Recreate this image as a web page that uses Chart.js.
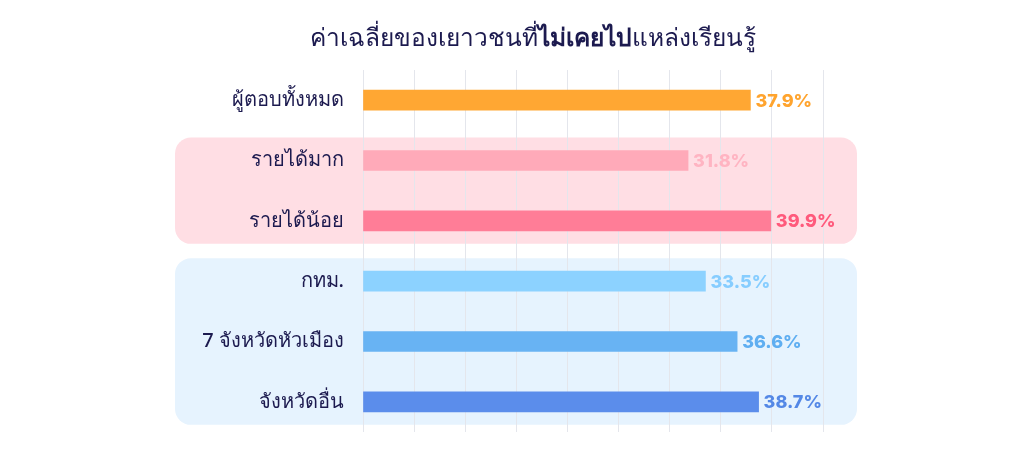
<!DOCTYPE html>
<html>
<head>
<meta charset="utf-8">
<script src="https://cdn.jsdelivr.net/npm/chart.js@4"></script>
<style>
  html, body { margin: 0; padding: 0; background: #fff; }
  #wrap { position: relative; width: 1024px; height: 453px; }
  #title { position: absolute; left: 0; width: 1066px; top: 18px; text-align: center;
           font-family: 'Noto Sans', sans-serif; font-size: 24.5px; color: #1c1a4f; }
  #title b { font-weight: 800; }
  canvas { position: absolute; left: 0; top: 0; }
</style>
</head>
<body>
<div id="wrap">
  <canvas id="chart" width="1024" height="453"></canvas>
  <div id="title">ค่าเฉลี่ยของเยาวชนที่<b>ไม่เคยไป</b>แหล่งเรียนรู้</div>
</div>
<script>
const categories = ['ผู้ตอบทั้งหมด', 'รายได้มาก', 'รายได้น้อย', 'กทม.', '7 จังหวัดหัวเมือง', 'จังหวัดอื่น'];
const values = [37.9, 31.8, 39.9, 33.5, 36.6, 38.7];
const barColors = ['#FFA733', '#FFAAB9', '#FF7D97', '#8CD2FF', '#68B3F3', '#5B8DEB'];
const labelColors = ['#FFA42E', '#FFB4C2', '#FF5A7C', '#86CDFF', '#5FAEF1', '#5488E6'];
const xTicks = [0, 5, 10, 15, 20, 25, 30, 35, 40, 45];

// rounded panels behind the two groups (category index ranges)
const groupPanels = [
    {from: 1, to: 2, color: '#FFDEE4'},
    {from: 3, to: 5, color: '#E6F3FE'}
];

const panelPlugin = {
    id: 'panels',
    beforeDraw(chart) {
        const ctx = chart.ctx;
        const y = chart.scales.y;
        groupPanels.forEach(p => {
            const top = y.getPixelForValue(p.from) - 23;
            const bottom = y.getPixelForValue(p.to) + 23;
            ctx.save();
            ctx.fillStyle = p.color;
            ctx.beginPath();
            ctx.roundRect(175, top, 682, bottom - top, 16);
            ctx.fill();
            ctx.restore();
        });
    }
};

const valueLabelPlugin = {
    id: 'valueLabels',
    afterDatasetsDraw(chart) {
        const ctx = chart.ctx;
        const meta = chart.getDatasetMeta(0);
        ctx.save();
        ctx.font = '800 18px Inter, sans-serif';
        ctx.textBaseline = 'middle';
        meta.data.forEach((bar, i) => {
            ctx.fillStyle = labelColors[i];
            ctx.fillText(values[i].toFixed(1) + '%', bar.x + 5, bar.y + 1);
        });
        ctx.restore();
    }
};

new Chart(document.getElementById('chart'), {
    type: 'bar',
    data: {
        labels: categories,
        datasets: [{
            data: values,
            backgroundColor: barColors,
            barThickness: 20
        }]
    },
    options: {
        indexAxis: 'y',
        responsive: false,
        animation: false,
        layout: {padding: {top: 70, bottom: 21, right: 201, left: 0}},
        plugins: {legend: {display: false}, tooltip: {enabled: false}},
        scales: {
            x: {
                min: 0, max: 45,
                afterBuildTicks: axis => { axis.ticks = xTicks.map(v => ({value: v})); },
                afterFit: axis => { axis.height = 0; axis.paddingLeft = 0; axis.paddingRight = 0; },
                ticks: {display: false},
                border: {display: false},
                grid: {color: '#E4E6EC', drawTicks: false}
            },
            y: {
                afterFit: axis => { axis.width = 363; axis.paddingTop = 0; axis.paddingBottom = 0; },
                grid: {display: false, drawTicks: false},
                border: {display: false},
                ticks: {
                    padding: 19,
                    color: '#1c1a4f',
                    font: {family: '"Noto Sans", sans-serif', size: 20, weight: 500}
                }
            }
        }
    },
    plugins: [panelPlugin, valueLabelPlugin]
});
</script>
</body>
</html>
